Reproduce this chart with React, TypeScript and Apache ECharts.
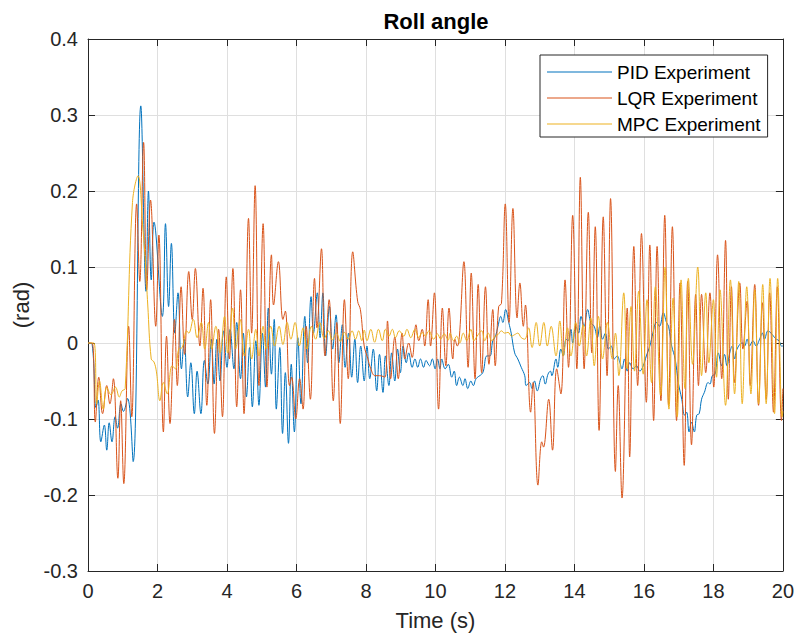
import React, { useEffect, useRef } from "react";
import * as echarts from "echarts";

const seriesNames = ["PID Experiment", "LQR Experiment", "MPC Experiment"];
const seriesColors = ["#0072BD", "#D95319", "#EDB120"];

const xTicks = { min: 0, max: 20, interval: 2 };
const yTicks = { min: -0.3, max: 0.4, interval: 0.1 };

const pidTime = [0, 0.12, 0.23, 0.29, 0.37, 0.47, 0.54, 0.61, 0.69, 0.78, 0.85, 0.95, 1.02, 1.14, 1.3, 1.52, 1.67, 1.74, 1.82, 1.9, 2.14, 2.23, 2.32, 2.4, 2.5, 2.59, 2.69, 2.77, 2.87, 2.96, 3.06, 3.14, 3.25, 3.35, 3.45, 3.55, 3.63, 3.71, 3.8, 3.9, 4.0, 4.09, 4.2, 4.28, 4.39, 4.47, 4.56, 4.65, 4.73, 4.83, 4.92, 5.02, 5.11, 5.19, 5.28, 5.36, 5.42, 5.52, 5.6, 5.68, 5.77, 5.85, 5.94, 6.04, 6.13, 6.24, 6.32, 6.42, 6.49, 6.6, 6.68, 6.76, 6.84, 6.95, 7.04, 7.14, 7.22, 7.32, 7.4, 7.5, 7.59, 7.68, 7.76, 7.85, 7.95, 8.03, 8.11, 8.21, 8.31, 8.39, 8.49, 8.56, 8.66, 8.74, 8.83, 8.91, 8.99, 9.07, 9.16, 9.23, 9.33, 9.41, 9.49, 9.57, 9.66, 9.73, 9.83, 9.91, 9.99, 10.06, 10.13, 10.18, 10.28, 10.37, 10.47, 10.54, 10.61, 10.69, 10.79, 10.85, 10.93, 11.02, 11.09, 11.17, 11.33, 11.38, 11.48, 11.57, 11.65, 11.72, 11.8, 11.88, 11.94, 12.02, 12.11, 12.18, 12.28, 12.37, 12.47, 12.57, 12.61, 12.71, 12.78, 12.85, 12.93, 13.03, 13.09, 13.16, 13.24, 13.31, 13.35, 13.47, 13.52, 13.61, 13.68, 13.76, 13.82, 13.9, 13.95, 14.04, 14.12, 14.19, 14.28, 14.38, 14.47, 14.57, 14.66, 14.73, 14.81, 14.89, 14.98, 15.06, 15.15, 15.23, 15.31, 15.37, 15.44, 15.52, 15.59, 15.69, 15.79, 15.88, 15.98, 16.07, 16.17, 16.26, 16.36, 16.45, 16.56, 16.65, 16.71, 16.8, 16.9, 16.99, 17.09, 17.17, 17.23, 17.3, 17.37, 17.45, 17.52, 17.59, 17.66, 17.74, 17.85, 17.9, 17.97, 18.05, 18.14, 18.24, 18.32, 18.39, 18.47, 18.54, 18.61, 18.68, 18.83, 18.9, 18.97, 19.04, 19.14, 19.23, 19.33, 19.41, 19.47, 19.57, 19.66, 19.73, 19.81, 19.89, 19.96, 20.0];
const pidRoll = [0, -0.002, -0.085, -0.075, -0.13, -0.108, -0.141, -0.105, -0.13, -0.097, -0.112, -0.08, -0.09, -0.073, -0.156, 0.312, 0.068, 0.2, 0.083, 0.159, 0.035, 0.157, 0.048, 0.131, 0.013, 0.066, -0.034, 0.005, -0.071, -0.026, -0.093, -0.037, -0.093, -0.023, -0.054, 0.005, -0.054, 0.005, -0.05, 0.016, -0.032, 0.018, -0.034, 0.027, -0.047, 0.013, -0.071, -0.006, -0.084, 0.003, -0.082, 0.013, -0.058, 0.046, -0.041, 0.031, -0.087, -0.006, -0.119, -0.039, -0.132, -0.028, -0.117, 0.007, -0.08, 0.035, -0.026, 0.061, 0.013, 0.066, 0.007, 0.066, -0.017, 0.048, -0.008, 0.037, -0.026, 0.024, -0.032, 0.013, -0.045, 0.005, -0.052, -0.004, -0.05, -0.004, -0.047, -0.008, -0.063, -0.015, -0.065, -0.017, -0.056, -0.013, -0.05, -0.008, -0.039, -0.004, -0.026, -0.013, -0.032, -0.021, -0.032, -0.021, -0.032, -0.023, -0.03, -0.021, -0.034, -0.021, -0.034, -0.021, -0.034, -0.028, -0.045, -0.037, -0.056, -0.045, -0.056, -0.047, -0.06, -0.05, -0.056, -0.047, -0.041, -0.037, -0.017, -0.017, 0.003, 0.008, 0.022, 0.035, 0.027, 0.044, 0.027, 0.013, -0.013, -0.021, -0.032, -0.043, -0.056, -0.052, -0.06, -0.05, -0.063, -0.047, -0.043, -0.054, -0.041, -0.037, -0.043, -0.021, -0.032, -0.008, -0.017, 0.005, 0.003, 0.018, 0.0, 0.022, 0.013, 0.035, 0.022, 0.044, 0.027, 0.022, 0.007, 0.022, 0.005, 0.013, -0.008, -0.004, -0.021, -0.017, -0.026, -0.034, -0.021, -0.037, -0.026, -0.034, -0.03, -0.037, -0.03, -0.017, -0.004, 0.013, 0.027, 0.022, 0.04, 0.027, 0.022, -0.004, -0.021, -0.052, -0.074, -0.095, -0.091, -0.117, -0.104, -0.117, -0.095, -0.093, -0.074, -0.065, -0.052, -0.054, -0.043, -0.041, -0.013, -0.03, -0.015, -0.03, -0.013, -0.004, -0.021, -0.008, 0.0, -0.004, 0.005, -0.004, 0.003, -0.004, 0.005, 0.013, 0.005, 0.016, 0.013, 0.009, 0.005, 0.003, -0.004, -0.004];

const lqrTime = [0, 0.12, 0.21, 0.31, 0.42, 0.54, 0.63, 0.73, 0.86, 0.94, 1.03, 1.17, 1.26, 1.4, 1.49, 1.6, 1.69, 1.8, 1.95, 2.04, 2.17, 2.26, 2.36, 2.49, 2.57, 2.68, 2.78, 2.9, 3.0, 3.09, 3.22, 3.31, 3.42, 3.53, 3.64, 3.76, 3.87, 3.98, 4.07, 4.17, 4.28, 4.39, 4.49, 4.62, 4.71, 4.81, 4.92, 5.04, 5.15, 5.28, 5.34, 5.48, 5.61, 5.68, 5.8, 5.86, 5.98, 6.09, 6.19, 6.28, 6.4, 6.52, 6.59, 6.72, 6.82, 6.94, 7.06, 7.16, 7.26, 7.38, 7.49, 7.62, 7.76, 7.84, 7.95, 8.05, 8.14, 8.26, 8.39, 8.55, 8.62, 8.71, 8.83, 8.93, 9.04, 9.12, 9.23, 9.33, 9.44, 9.52, 9.62, 9.69, 9.79, 9.86, 9.97, 10.09, 10.2, 10.3, 10.39, 10.5, 10.56, 10.63, 10.69, 10.82, 10.94, 11.03, 11.14, 11.23, 11.33, 11.44, 11.54, 11.65, 11.72, 11.82, 11.9, 12.01, 12.12, 12.23, 12.35, 12.43, 12.53, 12.59, 12.74, 12.81, 12.95, 13.06, 13.11, 13.26, 13.37, 13.49, 13.61, 13.73, 13.83, 13.95, 14.07, 14.17, 14.28, 14.4, 14.5, 14.6, 14.71, 14.83, 14.94, 15.04, 15.18, 15.26, 15.37, 15.52, 15.59, 15.71, 15.82, 15.93, 16.07, 16.17, 16.28, 16.38, 16.49, 16.6, 16.71, 16.82, 16.94, 17.04, 17.16, 17.26, 17.37, 17.49, 17.57, 17.66, 17.78, 17.9, 18.01, 18.12, 18.24, 18.35, 18.43, 18.52, 18.61, 18.76, 18.85, 18.97, 19.06, 19.19, 19.3, 19.41, 19.52, 19.62, 19.73, 19.84, 19.96, 20.0];
const lqrRoll = [0, 0, -0.104, -0.045, -0.093, -0.056, -0.08, -0.047, -0.178, -0.076, -0.185, 0.022, -0.097, 0.183, 0.081, 0.264, 0.07, 0.188, 0.022, 0.142, -0.117, 0.009, -0.106, 0.031, -0.056, 0.074, -0.015, 0.094, 0.031, 0.098, -0.004, 0.072, -0.082, 0.057, -0.119, 0.018, -0.097, 0.087, -0.021, 0.098, -0.084, 0.07, -0.093, 0.164, 0.013, 0.207, -0.056, 0.157, -0.058, 0.116, 0.05, 0.107, 0.031, 0.042, -0.056, -0.045, -0.1, -0.047, -0.087, 0.022, -0.074, 0.085, 0.02, 0.124, -0.017, 0.057, -0.076, 0.027, -0.106, 0.057, -0.047, 0.12, 0.055, 0.044, -0.004, -0.02, -0.034, -0.043, -0.043, -0.045, 0.029, -0.047, 0.008, -0.047, 0.013, -0.021, 0.0, -0.019, 0.024, 0.003, 0.018, -0.004, 0.057, -0.004, 0.066, -0.087, 0.046, -0.03, 0.046, -0.021, 0.005, -0.004, 0.009, 0.107, -0.032, 0.092, -0.047, 0.077, -0.039, 0.074, -0.028, 0.044, -0.03, 0.048, 0.052, 0.183, 0.027, 0.177, 0.033, 0.079, 0.022, 0.05, -0.091, -0.052, -0.187, -0.13, -0.137, -0.074, -0.141, -0.034, -0.067, 0.083, -0.032, 0.168, -0.034, 0.218, -0.034, 0.172, -0.013, 0.153, -0.115, 0.166, -0.043, 0.19, -0.169, -0.056, -0.204, 0.046, -0.15, 0.127, -0.056, 0.144, -0.078, 0.129, -0.102, 0.127, -0.076, 0.168, -0.082, 0.153, -0.102, 0.079, -0.161, 0.081, -0.134, 0.064, -0.056, 0.064, -0.039, 0.066, -0.058, 0.116, -0.047, 0.135, -0.074, 0.074, -0.052, 0.079, -0.008, 0.055, -0.056, 0.077, -0.082, 0.053, -0.074, 0.066, -0.091, 0.074, -0.102, -0.06];

const mpcTime = [0, 0.17, 0.25, 0.33, 0.44, 0.54, 0.66, 0.79, 0.9, 0.98, 1.07, 1.28, 1.44, 1.58, 1.66, 1.72, 1.82, 1.9, 1.97, 2.07, 2.17, 2.28, 2.42, 2.52, 2.61, 2.71, 2.84, 2.9, 3.03, 3.14, 3.26, 3.36, 3.47, 3.56, 3.68, 3.8, 3.93, 4.02, 4.16, 4.25, 4.38, 4.5, 4.62, 4.71, 4.83, 4.92, 5.04, 5.13, 5.26, 5.37, 5.5, 5.61, 5.73, 5.84, 5.96, 6.08, 6.19, 6.3, 6.43, 6.55, 6.67, 6.8, 6.92, 7.03, 7.15, 7.26, 7.38, 7.49, 7.6, 7.7, 7.79, 7.88, 7.95, 8.03, 8.14, 8.25, 8.36, 8.47, 8.56, 8.66, 8.76, 8.85, 8.96, 9.09, 9.18, 9.29, 9.41, 9.52, 9.62, 9.71, 9.81, 9.95, 10.06, 10.15, 10.25, 10.37, 10.42, 10.52, 10.61, 10.7, 10.8, 10.9, 11.02, 11.11, 11.2, 11.33, 11.42, 11.52, 11.62, 11.72, 11.8, 11.9, 11.99, 12.09, 12.19, 12.28, 12.37, 12.47, 12.57, 12.68, 12.78, 12.9, 13.0, 13.12, 13.22, 13.33, 13.47, 13.58, 13.68, 13.8, 13.9, 14.04, 14.14, 14.25, 14.35, 14.47, 14.57, 14.69, 14.81, 14.95, 15.09, 15.18, 15.28, 15.42, 15.52, 15.63, 15.73, 15.85, 15.98, 16.09, 16.22, 16.33, 16.48, 16.61, 16.72, 16.84, 16.96, 17.07, 17.18, 17.28, 17.4, 17.55, 17.66, 17.78, 17.87, 18.0, 18.09, 18.19, 18.35, 18.49, 18.61, 18.73, 18.83, 18.96, 19.08, 19.19, 19.3, 19.42, 19.52, 19.63, 19.76, 19.85, 19.98, 20.0];
const mpcRoll = [0, 0, -0.08, -0.05, -0.087, -0.058, -0.068, -0.058, -0.071, -0.063, -0.06, 0.185, 0.22, 0.15, 0.1, 0.05, -0.021, -0.025, -0.038, -0.076, -0.052, -0.067, -0.03, -0.034, -0.008, -0.006, 0.016, 0.013, 0.031, 0.007, 0.027, -0.008, 0.027, -0.008, 0.022, -0.013, 0.035, -0.013, 0.046, -0.008, 0.031, -0.017, 0.018, -0.021, 0.018, -0.017, 0.022, -0.008, 0.022, -0.004, 0.022, -0.002, 0.027, 0.005, 0.027, -0.004, 0.02, -0.008, 0.022, 0.005, 0.027, 0.006, 0.016, 0.004, 0.013, 0.002, 0.014, 0.005, 0.016, 0.005, 0.016, 0.003, 0.017, 0.003, 0.018, 0.001, 0.018, 0.003, 0.018, 0.009, 0.018, 0.007, 0.016, 0.009, 0.018, 0.007, 0.018, 0.007, 0.014, 0.009, 0.016, 0.005, 0.012, 0.005, 0.012, 0.004, 0.013, 0.003, 0.009, 0.0, 0.013, 0.003, 0.018, 0.003, 0.009, 0.016, 0.003, 0.013, 0.003, 0.009, 0.011, 0.016, 0.013, 0.014, 0.009, 0.011, 0.013, 0.007, 0.005, 0.02, -0.006, 0.027, -0.004, 0.027, -0.004, 0.022, -0.017, 0.029, -0.017, 0.02, -0.017, 0.027, -0.004, 0.024, -0.017, 0.033, -0.03, 0.035, -0.021, 0.027, -0.021, 0.013, -0.043, 0.066, -0.034, 0.048, -0.037, 0.068, -0.041, 0.057, -0.052, 0.074, -0.069, 0.1, -0.087, 0.059, -0.097, 0.083, -0.06, 0.085, -0.028, 0.1, -0.043, 0.066, -0.026, 0.057, -0.045, 0.07, -0.082, 0.083, -0.067, 0.081, -0.08, 0.074, -0.067, 0.07, -0.08, 0.077, -0.08, 0.085, -0.093, 0.085, -0.097, -0.09];

const zip = (t: number[], v: number[]) => t.map((x, i) => [x, v[i]]);

const FONT = "'Liberation Sans', Arial, Helvetica, sans-serif";
const AXIS_COLOR = "#262626";
const GRID_COLOR = "#dfdfdf";

export default function App() {
  const ref = useRef<HTMLDivElement>(null);
  useEffect(() => {
    document.body.style.margin = "0";
    if (!ref.current) return;
    const chart = echarts.init(ref.current, undefined, { renderer: "svg" });
    const gridLeft = 88, gridTop = 39, gridW = 696, gridH = 536;
    const axisBase = (pos: string, show: boolean) => ({
      type: "value",
      position: pos,
      axisLine: { show: true, onZero: false, lineStyle: { color: AXIS_COLOR, width: 1 } },
      axisTick: { show: true, inside: true, length: 7, lineStyle: { color: AXIS_COLOR } },
      axisLabel: {
        show,
        color: AXIS_COLOR,
        fontSize: 20,
        fontFamily: FONT,
        margin: 10,
      },
    });
    const datasets = [zip(pidTime, pidRoll), zip(lqrTime, lqrRoll), zip(mpcTime, mpcRoll)];
    chart.setOption({
      animation: false,
      backgroundColor: "#ffffff",
      graphic: [
        {
          type: "text",
          x: gridLeft + gridW / 2,
          y: 21,
          style: {
            text: "Roll angle",
            align: "center",
            verticalAlign: "middle",
            fontSize: 22,
            fontWeight: "bold",
            fontFamily: FONT,
            fill: "#000",
          },
        },
      ],
      grid: { left: gridLeft, top: gridTop, width: gridW, height: gridH, containLabel: false },
      legend: {
        data: seriesNames,
        orient: "vertical",
        left: 540,
        top: 55,
        padding: [7, 7, 3, 7],
        itemGap: 6,
        itemWidth: 65,
        itemHeight: 1,
        icon: "rect",
        backgroundColor: "#ffffff",
        borderColor: AXIS_COLOR,
        borderWidth: 1,
        borderRadius: 0,
        textStyle: { fontSize: 19, fontFamily: FONT, color: "#000", lineHeight: 20, height: 20 },
      },
      xAxis: [
        {
          ...axisBase("bottom", true),
          ...xTicks,
          name: "Time (s)",
          nameLocation: "middle",
          nameGap: 38,
          nameTextStyle: { fontSize: 22, fontFamily: FONT, color: AXIS_COLOR },
          splitLine: { show: true, lineStyle: { color: GRID_COLOR, width: 1 } },
        },
        {
          ...axisBase("top", false),
          ...xTicks,
          splitLine: { show: false },
        },
      ],
      yAxis: [
        {
          ...axisBase("left", true),
          ...yTicks,
          name: "(rad)",
          nameLocation: "middle",
          nameGap: 49,
          nameTextStyle: { fontSize: 22, fontFamily: FONT, color: AXIS_COLOR },
          splitLine: { show: true, lineStyle: { color: GRID_COLOR, width: 1 } },
        },
        {
          ...axisBase("right", false),
          ...yTicks,
          splitLine: { show: false },
        },
      ],
      series: seriesNames.map((name, i) => ({
        name,
        type: "line",
        xAxisIndex: 0,
        yAxisIndex: 0,
        data: datasets[i],
        symbol: "none",
        smooth: 0.4,
        clip: true,
        lineStyle: { color: seriesColors[i], width: 1 },
        itemStyle: { color: seriesColors[i] },
      })),
    });
    return () => chart.dispose();
  }, []);
  return <div ref={ref} style={{ width: 797, height: 636 }} />;
}
